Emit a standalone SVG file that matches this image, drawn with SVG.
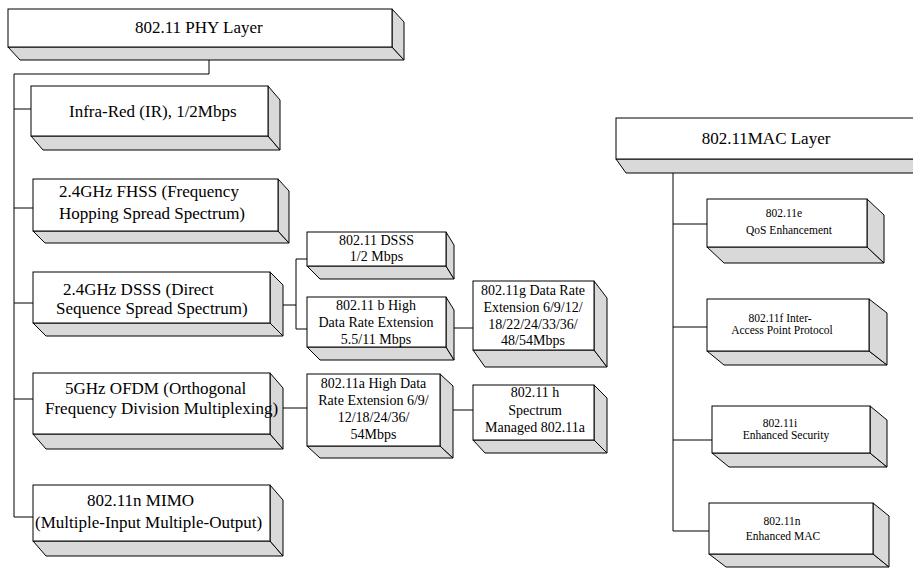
<svg xmlns="http://www.w3.org/2000/svg" width="913" height="568" viewBox="0 0 913 568">
<style>
.f{fill:#fff;stroke:#000;stroke-width:1}
.s{fill:#d9d9d9;stroke:#000;stroke-width:1;stroke-linejoin:miter}
.t{font-family:"Liberation Serif","Times New Roman",serif;fill:#000}
.l{font-size:17px}
.m{font-size:14px;text-anchor:middle}
.r{font-size:11.5px;text-anchor:middle}
.c{fill:none;stroke:#000;stroke-width:1}
</style>
<rect width="913" height="568" fill="#fff"/>
<g id="connectors" class="c">
<path d="M209,60 V74 H14 V517 H33 M14,109 H31 M14,208 H33 M14,303 H33 M14,399 H33"/>
<path d="M283,305 H296 M296,259 V329 M296,259 H307 M296,329 H307"/>
<path d="M454,328 H473 M283,408 H307 M453,410 H473"/>
<path d="M673,173 V531 H709 M673,224 H707 M673,327 H707 M673,440 H712"/>
</g>
<g id="phy">
<polygon class="s" points="8,47 392,47 404,60 20,60"/><polygon class="s" points="392,9 404,22 404,60 392,47"/>
<rect class="f" x="8" y="9" width="384" height="38"/>
<text class="t l" x="135" y="33">802.11 PHY Layer</text>
</g>
<g id="ir">
<polygon class="s" points="31,136 268,136 280,150 43,150"/><polygon class="s" points="268,86 280,100 280,150 268,136"/>
<rect class="f" x="31" y="86" width="237" height="50"/>
<text class="t l" x="69" y="117">Infra-Red (IR), 1/2Mbps</text>
</g>
<g id="fhss">
<polygon class="s" points="33,231 278,231 289,243 45,243"/><polygon class="s" points="278,179 289,191 289,243 278,231"/>
<rect class="f" x="33" y="179" width="245" height="52"/>
<text class="t l" x="59" y="197">2.4GHz FHSS (Frequency</text>
<text class="t l" x="59" y="219">Hopping Spread Spectrum)</text>
</g>
<g id="dsss">
<polygon class="s" points="33,323 270,323 283,336 46,336"/><polygon class="s" points="270,272 283,285 283,336 270,323"/>
<rect class="f" x="33" y="272" width="237" height="51"/>
<text class="t l" x="63" y="295">2.4GHz DSSS (Direct</text>
<text class="t l" x="56" y="314">Sequence Spread Spectrum)</text>
</g>
<g id="ofdm">
<polygon class="s" points="33,434 270,434 283,449 46,449"/><polygon class="s" points="270,373 283,388 283,449 270,434"/>
<rect class="f" x="33" y="373" width="237" height="61"/>
<text class="t l" x="65" y="394">5GHz OFDM (Orthogonal</text>
<text class="t l" x="45" y="414">Frequency Division Multiplexing)</text>
</g>
<g id="mimo">
<polygon class="s" points="33,541 270,541 283,556 46,556"/><polygon class="s" points="270,485 283,500 283,556 270,541"/>
<rect class="f" x="33" y="485" width="237" height="56"/>
<text class="t l" x="87" y="506">802.11n MIMO</text>
<text class="t l" x="35" y="528">(Multiple-Input Multiple-Output)</text>
</g>
<g id="dsss12">
<polygon class="s" points="307,266 446,266 454,279 320,279"/><polygon class="s" points="446,232 454,245 454,279 446,266"/>
<rect class="f" x="307" y="232" width="139" height="34"/>
<text class="t m" x="376.5" y="245">802.11 DSSS</text>
<text class="t m" x="376.5" y="261">1/2 Mbps</text>
</g>
<g id="b">
<polygon class="s" points="307,347 446,347 454,360 320,360"/><polygon class="s" points="446,297 454,310 454,360 446,347"/>
<rect class="f" x="307" y="297" width="139" height="50"/>
<text class="t m" x="376" y="310">802.11 b High</text>
<text class="t m" x="376" y="327">Data Rate Extension</text>
<text class="t m" x="376" y="344">5.5/11 Mbps</text>
</g>
<g id="g">
<polygon class="s" points="473,350 594,350 607,367 485,367"/><polygon class="s" points="594,281 607,298 607,367 594,350"/>
<rect class="f" x="473" y="281" width="121" height="69"/>
<text class="t m" x="533" y="295">802.11g Data Rate</text>
<text class="t m" x="533" y="312">Extension 6/9/12/</text>
<text class="t m" x="533" y="329">18/22/24/33/36/</text>
<text class="t m" x="533" y="345">48/54Mbps</text>
</g>
<g id="a">
<polygon class="s" points="307,446 440,446 453,458 320,458"/><polygon class="s" points="440,374 453,386 453,458 440,446"/>
<rect class="f" x="307" y="374" width="133" height="72"/>
<text class="t m" x="373.5" y="388">802.11a High Data</text>
<text class="t m" x="373.5" y="405">Rate Extension 6/9/</text>
<text class="t m" x="373.5" y="422">12/18/24/36/</text>
<text class="t m" x="373.5" y="439">54Mbps</text>
</g>
<g id="h">
<polygon class="s" points="473,440 594,440 607,453 485,453"/><polygon class="s" points="594,385 607,398 607,453 594,440"/>
<rect class="f" x="473" y="385" width="121" height="55"/>
<text class="t m" x="535" y="397">802.11 h</text>
<text class="t m" x="535" y="415">Spectrum</text>
<text class="t m" x="535" y="432">Managed 802.11a</text>
</g>
<g id="mac">
<polygon class="s" points="616,159 916,159 928,173 626,173"/>
<rect class="f" x="616" y="118" width="300" height="41"/>
<text class="t l" x="766" y="144" text-anchor="middle">802.11MAC Layer</text>
</g>
<g id="e">
<polygon class="s" points="707,247 867,247 884,263 724,263"/><polygon class="s" points="867,199 884,215 884,263 867,247"/>
<rect class="f" x="707" y="199" width="160" height="48"/>
<text class="t r" x="784" y="217">802.11e</text>
<text class="t r" x="789" y="234">QoS Enhancement</text>
</g>
<g id="f">
<polygon class="s" points="707,351 869,351 887,365 724,365"/><polygon class="s" points="869,299 887,313 887,365 869,351"/>
<rect class="f" x="707" y="299" width="162" height="52"/>
<text class="t r" x="780" y="322">802.11f Inter-</text>
<text class="t r" x="782" y="334">Access Point Protocol</text>
</g>
<g id="i">
<polygon class="s" points="712,453 870,453 887,467 729,467"/><polygon class="s" points="870,406 887,420 887,467 870,453"/>
<rect class="f" x="712" y="406" width="158" height="47"/>
<text class="t r" x="780" y="427">802.11i</text>
<text class="t r" x="786" y="439">Enhanced Security</text>
</g>
<g id="n">
<polygon class="s" points="709,554 873,554 889,567 726,567"/><polygon class="s" points="873,503 889,516 889,567 873,554"/>
<rect class="f" x="709" y="503" width="164" height="51"/>
<text class="t r" x="782" y="525">802.11n</text>
<text class="t r" x="783" y="540">Enhanced MAC</text>
</g>
</svg>
